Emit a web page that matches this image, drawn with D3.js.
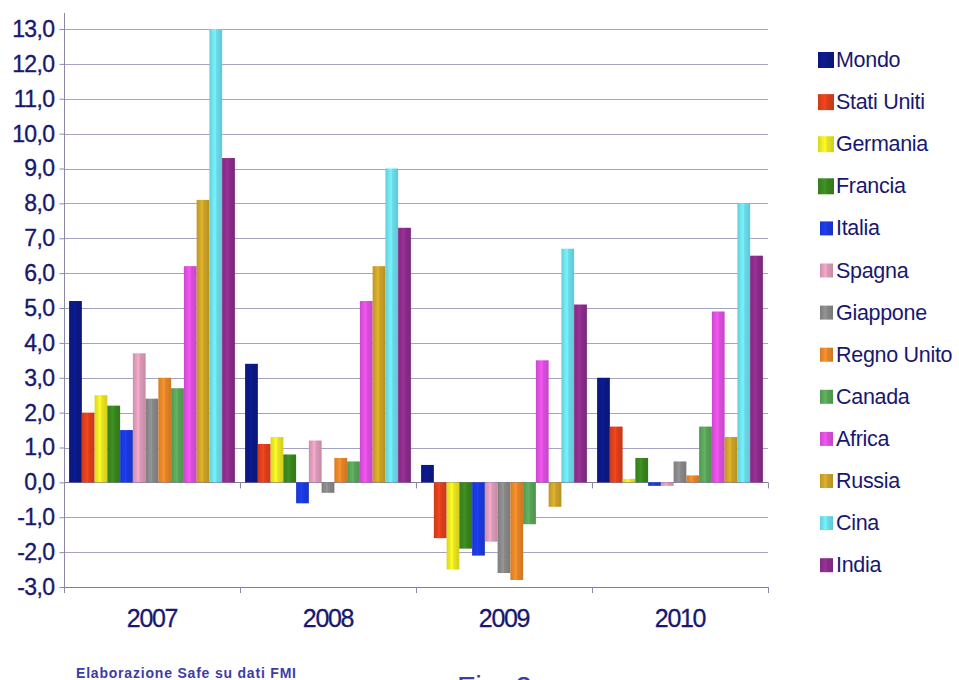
<!DOCTYPE html>
<html lang="it">
    <head>
        <meta charset="utf-8">
        <title>Crescita PIL</title>
        <script src="https://cdn.jsdelivr.net/npm/d3@7"></script>
        <style>
            body { margin: 0; background: #fff; }
            text { font-family: "Liberation Sans", Arial, sans-serif; fill: #181870; }
        </style>
    </head>
    <body>
        <script>
            // categorie e serie
            var years = ["2007", "2008", "2009", "2010"];
            var countries = ["Mondo", "Stati Uniti", "Germania", "Francia", "Italia", "Spagna",
                             "Giappone", "Regno Unito", "Canada", "Africa", "Russia", "Cina", "India"];
            var colors = ["#0c1a8c", "#e8421c", "#f6f024", "#3c8c20", "#1c3ce8", "#e8a2c2",
                          "#8e8e8e", "#f08c2a", "#5cac5c", "#e852e8", "#d6aa2a", "#72e8f8", "#922e92"];

            // valori per anno (stesso ordine di countries)
            var v2007 = [5.2, 2.0, 2.5, 2.2, 1.5, 3.7, 2.4, 3.0, 2.7, 6.2, 8.1, 13.0, 9.3];
            var v2008 = [3.4, 1.1, 1.3, 0.8, -0.6, 1.2, -0.3, 0.7, 0.6, 5.2, 6.2, 9.0, 7.3];
            var v2009 = [0.5, -1.6, -2.5, -1.9, -2.1, -1.7, -2.6, -2.8, -1.2, 3.5, -0.7, 6.7, 5.1];
            var v2010 = [3.0, 1.6, 0.1, 0.7, -0.1, -0.1, 0.6, 0.2, 1.6, 4.9, 1.3, 8.0, 6.5];

            var yTicks = [-3, -2, -1, 0, 1, 2, 3, 4, 5, 6, 7, 8, 9, 10, 11, 12, 13];

            var byYear = [v2007, v2008, v2009, v2010];
            var rows = [];
            years.forEach(function(y, i) {
                countries.forEach(function(c, j) {
                    rows.push({year: y, country: c, value: byYear[i][j], idx: j});
                });
            });

            var width = 959, height = 680;
            var plotLeft = 64, plotRight = 768, plotTop = 29, plotBottom = 587;

            var svg = d3.select("body").append("svg")
                        .attr("width", width)
                        .attr("height", height);

            var xScale = d3.scaleBand().domain(years).range([plotLeft, plotRight]).padding(0);
            var xInner = d3.scaleBand().domain(countries)
                           .range([0, xScale.bandwidth()])
                           .paddingInner(0).paddingOuter(0.4);
            var yScale = d3.scaleLinear().domain([-3, 13]).range([plotBottom, plotTop]);

            // gradienti per l'effetto rilievo delle barre
            var defs = svg.append("defs");
            colors.forEach(function(c, i) {
                var g = defs.append("linearGradient")
                            .attr("id", "g" + i)
                            .attr("x1", "0").attr("x2", "1").attr("y1", "0").attr("y2", "0");
                var base = d3.color(c);
                g.append("stop").attr("offset", "0%").attr("stop-color", base.darker(0.35));
                g.append("stop").attr("offset", "45%").attr("stop-color", base.brighter(0.15));
                g.append("stop").attr("offset", "55%").attr("stop-color", base.darker(0.15));
                g.append("stop").attr("offset", "100%").attr("stop-color", base.darker(0.45));
            });

            // griglia
            svg.append("g").selectAll("line")
               .data(yTicks)
               .enter().append("line")
               .attr("x1", plotLeft).attr("x2", plotRight)
               .attr("y1", function(d) { return Math.round(yScale(d)) + 0.5; })
               .attr("y2", function(d) { return Math.round(yScale(d)) + 0.5; })
               .attr("stroke", function(d) { return d === 0 || d === -3 ? "#7c7ca0" : "#a4a4c2"; })
               .attr("stroke-width", 1.2);

            // asse Y
            var yAxis = d3.axisLeft(yScale)
                          .tickValues(yTicks)
                          .tickSize(5)
                          .tickPadding(5)
                          .tickFormat(function(d) { return d3.format(".1f")(d).replace(".", ",").replace("−", "-"); });
            var ya = svg.append("g")
                        .attr("transform", "translate(" + (plotLeft + 0.5) + ",0)")
                        .call(yAxis);
            ya.select(".domain").attr("d", "M0,13V" + (plotBottom + 4)).attr("stroke", "#8a8aa8");
            ya.selectAll(".tick line").attr("stroke", "#8a8aa8");
            ya.selectAll(".tick text")
              .attr("font-size", 23)
              .attr("font-family", "'Liberation Sans', Arial, sans-serif")
              .attr("letter-spacing", -0.6)
              .attr("fill", "#181870")
              .attr("stroke", "#181870")
              .attr("stroke-width", 0.35);

            // tacche di categoria sulla linea dello zero e in basso
            var bounds = [plotLeft].concat(years.map(function(y) { return xScale(y) + xScale.bandwidth(); }));
            [0, -3].forEach(function(v) {
                svg.append("g").selectAll("line")
                   .data(bounds)
                   .enter().append("line")
                   .attr("x1", function(d) { return Math.round(d) + 0.5; })
                   .attr("x2", function(d) { return Math.round(d) + 0.5; })
                   .attr("y1", yScale(v))
                   .attr("y2", yScale(v) + 6)
                   .attr("stroke", "#8a8aa8");
            });

            // barre
            svg.append("g").selectAll("rect")
               .data(rows)
               .enter().append("rect")
               .attr("x", function(d) { return xScale(d.year) + xInner(d.country); })
               .attr("width", xInner.bandwidth())
               .attr("y", function(d) { return yScale(Math.max(0, d.value)); })
               .attr("height", function(d) { return Math.abs(yScale(d.value) - yScale(0)); })
               .attr("fill", function(d) { return "url(#g" + d.idx + ")"; });

            // etichette anni
            svg.append("g").selectAll("text")
               .data(years)
               .enter().append("text")
               .attr("x", function(d) { return xScale(d) + xScale.bandwidth() / 2; })
               .attr("y", 627)
               .attr("text-anchor", "middle")
               .attr("font-size", 25)
               .attr("letter-spacing", -1.3)
               .attr("stroke", "#181870")
               .attr("stroke-width", 0.3)
               .text(function(d) { return d; });

            // legenda
            var legend = svg.append("g").selectAll("g")
                            .data(countries)
                            .enter().append("g")
                            .attr("transform", function(d, i) { return "translate(818," + (60 + i * 42.1) + ")"; });
            legend.append("rect")
                  .attr("x", function(d, i) { return i < 4 ? 0 : 2; })
                  .attr("y", function(d, i) { return i < 4 ? -8 : -7; })
                  .attr("width", function(d, i) { return i < 4 ? 16 : 13; })
                  .attr("height", function(d, i) { return i < 4 ? 16 : 14; })
                  .attr("fill", function(d, i) { return "url(#g" + i + ")"; });
            legend.append("text")
                  .attr("x", 18)
                  .attr("y", 7)
                  .attr("font-size", 21.5)
                  .attr("letter-spacing", -0.3)
                  .text(function(d) { return d; });

            // note in basso
            svg.append("text")
               .attr("x", 76)
               .attr("y", 678)
               .attr("font-size", 14)
               .attr("font-weight", "bold")
               .attr("letter-spacing", 0.8)
               .style("fill", "#3c3ca8")
               .text("Elaborazione Safe su dati FMI");

            svg.append("text")
               .attr("x", 457)
               .attr("y", 697)
               .attr("font-size", 30)
               .style("fill", "#3c3ca8")
               .text("Fig. 2");
        </script>
    </body>
</html>
